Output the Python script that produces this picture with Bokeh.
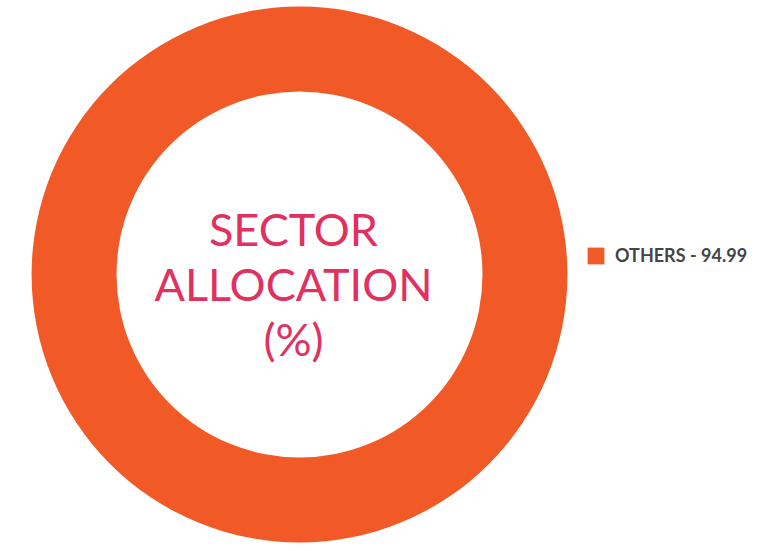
import math
from bokeh.plotting import figure
from bokeh.models import Legend, LegendItem, ColumnDataSource
from bokeh.core.properties import value
from bokeh.embed import file_html
from bokeh.resources import INLINE

# Data
categories = ["OTHERS"]
values = [94.99]
colors = ["#F15A27"]
center_lines = ["SECTOR", "ALLOCATION", "(%)"]

W, H = 750, 543
p = figure(width=W, height=H, x_range=(0, W), y_range=(0, H),
           output_backend="svg", toolbar_location=None, min_border=0)
p.axis.visible = False
p.grid.visible = False
p.outline_line_color = None
p.background_fill_color = "white"
p.border_fill_color = "white"

cx, cy = 299, 269
r_in, r_out = 183, 268

total = sum(values)
starts, ends = [], []
acc = 0.0
for v in values:
    frac = v / total
    starts.append(math.pi / 2 - 2 * math.pi * (acc + frac))
    ends.append(math.pi / 2 - 2 * math.pi * acc)
    acc += frac

src = ColumnDataSource(dict(cat=categories, val=values, color=colors,
                            start=starts, end=ends,
                            label=[f"{c} - {v:.2f}" for c, v in zip(categories, values)]))
r = p.annular_wedge(x=cx, y=cy, inner_radius=r_in, outer_radius=r_out,
                    start_angle="start", end_angle="end",
                    fill_color="color", line_color=None, source=src)

ys = [cy + 46 - i * 55 for i in range(len(center_lines))]
p.text(x=[cx - 6] * len(center_lines), y=ys, text=center_lines,
       text_font=value("Lato"), text_font_size="45px", text_color="#E0315F",
       text_align="center", text_baseline="alphabetic")

items = [LegendItem(label=lab, renderers=[r], index=i)
         for i, lab in enumerate(src.data["label"])]
legend = Legend(items=items, location=(585, 277), orientation="vertical",
                glyph_width=21, glyph_height=21, label_height=21,
                label_standoff=9, padding=0, margin=0, spacing=0,
                border_line_color=None, background_fill_alpha=0,
                label_text_font="Lato", label_text_font_style="bold",
                label_text_font_size="18px", label_text_color="#444444",
                label_text_baseline="middle")
p.add_layout(legend, "center")

open("out.html", "w").write(file_html(p, INLINE))
